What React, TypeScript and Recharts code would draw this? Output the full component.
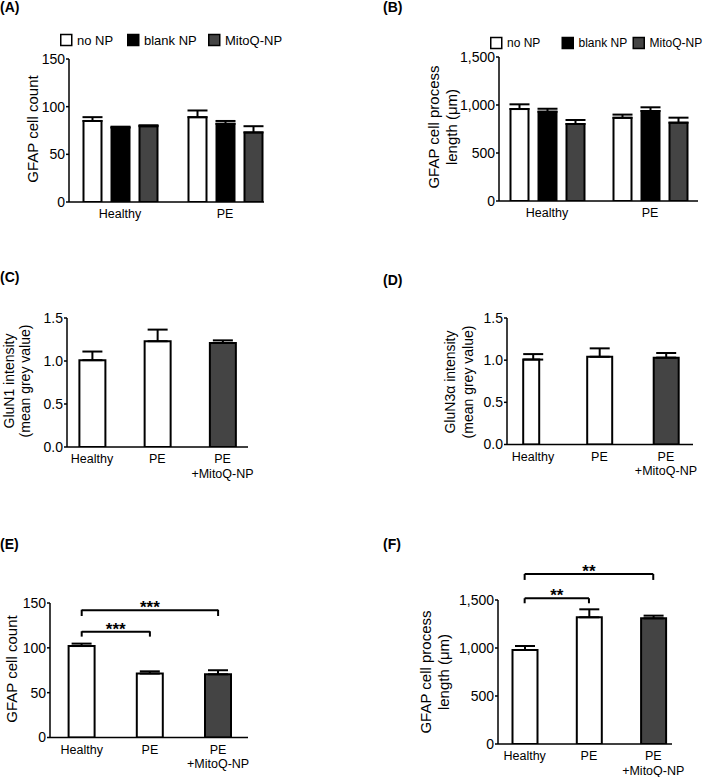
import React from 'react';
import { BarChart, Bar, XAxis, YAxis, ErrorBar, Cell, ReferenceLine, Rectangle } from 'recharts';

const FONT = '"Liberation Sans", Arial, Helvetica, sans-serif';
const PAGE_W = 707;
const PAGE_H = 777;
const GREY = '#444444';

// ---------- data ----------
const groupCategories = ['Healthy', 'PE'];
const seriesNames = ['no NP', 'blank NP', 'MitoQ-NP'];
const seriesFills = ['#ffffff', '#000000', GREY];

// Panel A: GFAP cell count
const aNoNP = [85, 89];
const aNoNPErr = [4, 7];
const aBlank = [78, 82];
const aBlankErr = [1, 3];
const aMitoQ = [79.5, 73];
const aMitoQErr = [1, 6.5];
const aTicks = [0, 50, 100, 150];

// Panel B: GFAP cell process length
const bNoNP = [958, 866];
const bNoNPErr = [49, 34];
const bBlank = [930, 937];
const bBlankErr = [31, 39];
const bMitoQ = [802, 816];
const bMitoQErr = [42, 52];
const bTicks = [0, 500, 1000, 1500];

// Panels C-F
const treatCategories = ['Healthy', 'PE', 'PE\n+MitoQ-NP'];
const treatFills = ['#ffffff', '#ffffff', GREY];

const cValues = [1.01, 1.23, 1.21];
const cErr = [0.1, 0.135, 0.03];
const cdTicks = [0, 0.5, 1.0, 1.5];

const dValues = [1.007, 1.04, 1.03];
const dErr = [0.065, 0.1, 0.055];

const eValues = [102, 71.3, 70.5];
const eErr = [2.7, 2.5, 4.5];
const eTicks = [0, 50, 100, 150];

const fValues = [979, 1320, 1309];
const fErr = [42, 83, 28];
const fTicks = [0, 500, 1000, 1500];

// significance annotations (value units)
const eBrackets = [
  { from: 'Healthy', to: 'PE', y: 118, drop: 5.5, label: '***' },
  { from: 'Healthy', to: 'PE\n+MitoQ-NP', y: 142, drop: 6.5, label: '***' },
];
const fBrackets = [
  { from: 'Healthy', to: 'PE', y: 1518, drop: 52, label: '**' },
  { from: 'Healthy', to: 'PE\n+MitoQ-NP', y: 1771, drop: 62, label: '**' },
];

// ---------- tables ----------
const aRows = groupCategories.map((c, i) => ({
  cat: c,
  noNP: aNoNP[i], noNPErr: [0, aNoNPErr[i]],
  blank: aBlank[i], blankErr: [0, aBlankErr[i]],
  mitoq: aMitoQ[i], mitoqErr: [0, aMitoQErr[i]],
}));
const bRows = groupCategories.map((c, i) => ({
  cat: c,
  noNP: bNoNP[i], noNPErr: [0, bNoNPErr[i]],
  blank: bBlank[i], blankErr: [0, bBlankErr[i]],
  mitoq: bMitoQ[i], mitoqErr: [0, bMitoQErr[i]],
}));
const mkRows = (vals: number[], errs: number[]) =>
  treatCategories.map((c, i) => ({ cat: c, v: vals[i], err: [0, errs[i]] }));
const cRows = mkRows(cValues, cErr);
const dRows = mkRows(dValues, dErr);
const eRows = mkRows(eValues, eErr);
const fRows = mkRows(fValues, fErr);

// ---------- layout ----------
type Spec = {
  x0: number; x1: number; y0: number; y1: number;
  padL: number; padR: number;
  max: number; ticks: number[]; fmt: (v: number) => string;
};
const intFmt = (v: number) => String(v);
const commaFmt = (v: number) => v.toLocaleString('en-US');
const decFmt = (v: number) => v.toFixed(1);

const specA: Spec = { x0: 69, x1: 264, y0: 59, y1: 202, padL: -1.5, padR: -13.5, max: 150, ticks: aTicks, fmt: intFmt };
const specB: Spec = { x0: 499, x1: 698, y0: 57, y1: 201, padL: -3.5, padR: -3.5, max: 1500, ticks: bTicks, fmt: commaFmt };
const specC: Spec = { x0: 67, x1: 248, y0: 318, y1: 447, padL: -7.6, padR: -7.1, max: 1.5, ticks: cdTicks, fmt: decFmt };
const specD: Spec = { x0: 507, x1: 693, y0: 318, y1: 444.5, padL: -7.3, padR: -6.2, max: 1.5, ticks: cdTicks, fmt: decFmt };
const specE: Spec = { x0: 50, x1: 248, y0: 603, y1: 737.5, padL: -2.4, padR: -4.2, max: 150, ticks: eTicks, fmt: intFmt };
const specF: Spec = { x0: 498, x1: 672, y0: 600, y1: 744, padL: -5.5, padR: -13.4, max: 1500, ticks: fTicks, fmt: commaFmt };

const Y_W = 40;
const X_H = 30;

const XTick = (props: any) => {
  const { x, y, payload } = props;
  const lines = String(payload.value).split('\n');
  return (
    <text x={x} y={y} textAnchor="middle" fontFamily={FONT} fontSize={12.5} fill="#000">
      {lines.map((l, i) => (
        <tspan key={i} x={x} dy={i === 0 ? 16 : 14.5}>{l}</tspan>
      ))}
    </text>
  );
};

const layerStyle: React.CSSProperties = { position: 'absolute', left: 0, top: 0 };

function Panel({ spec, rows, children }: { spec: Spec; rows: any[]; children: React.ReactNode }) {
  return (
    <div style={layerStyle}>
      <BarChart
        width={PAGE_W}
        height={PAGE_H}
        data={rows}
        margin={{ top: spec.y0, left: spec.x0 - Y_W, right: PAGE_W - spec.x1, bottom: PAGE_H - spec.y1 - X_H }}
        barGap={10}
      >
        <XAxis
          dataKey="cat"
          type="category"
          height={X_H}
          padding={{ left: spec.padL, right: spec.padR }}
          axisLine={{ stroke: '#000', strokeWidth: 1.5 }}
          tickLine={false}
          tickSize={0}
          tickMargin={0}
          interval={0}
          tick={<XTick />}
        />
        <YAxis
          width={Y_W}
          domain={[0, spec.max]}
          ticks={spec.ticks}
          allowDataOverflow
          tickFormatter={spec.fmt}
          axisLine={{ stroke: '#000', strokeWidth: 1.5 }}
          tickLine={{ stroke: '#000', strokeWidth: 1.5 }}
          tickSize={3}
          tickMargin={1}
          tick={{ fill: '#000', fontSize: 14, fontFamily: FONT }}
        />
        {children}
      </BarChart>
    </div>
  );
}

const errProps = { width: 10, stroke: '#000', strokeWidth: 2, direction: 'y' as const, isAnimationActive: false };

function groupedBars() {
  const keys = ['noNP', 'blank', 'mitoq'];
  return keys.map((k, i) => (
    <Bar key={k} dataKey={k} name={seriesNames[i]} fill={seriesFills[i]} stroke="#000" strokeWidth={2} barSize={18} isAnimationActive={false}>
      <ErrorBar dataKey={k + 'Err'} {...errProps} />
    </Bar>
  ));
}

const dWidthFactor = [0.64, 1, 1];
const DShape = (props: any) => {
  const f = dWidthFactor[props.index] ?? 1;
  const w = props.width * f;
  const shift = f < 1 ? (props.width - w) / 2 - 2 : 0;
  return <Rectangle x={props.x + shift} y={props.y} width={w} height={props.height} fill={props.fill} stroke="#000" strokeWidth={2} />;
};

function treatBars(barSize: number, shape?: any) {
  return (
    <Bar dataKey="v" stroke="#000" strokeWidth={2} barSize={barSize} isAnimationActive={false} shape={shape}>
      {treatFills.map((f, i) => <Cell key={i} fill={f} />)}
      <ErrorBar dataKey="err" {...errProps} />
    </Bar>
  );
}

function brackets(list: typeof eBrackets, fontSize: number, offset: number) {
  const out: React.ReactNode[] = [];
  list.forEach((b, i) => {
    out.push(
      <ReferenceLine
        key={'h' + i}
        segment={[{ x: b.from, y: b.y }, { x: b.to, y: b.y }]}
        stroke="#000"
        strokeWidth={2}
        ifOverflow="visible"
        label={{ value: b.label, position: 'top', offset, fontSize, fontWeight: 'bold', fill: '#000', fontFamily: FONT }}
      />
    );
    [b.from, b.to].forEach((x, j) => {
      out.push(
        <ReferenceLine
          key={'v' + i + '-' + j}
          segment={[{ x, y: b.y + 0.5 }, { x, y: b.y - b.drop }]}
          stroke="#000"
          strokeWidth={2}
          ifOverflow="visible"
        />
      );
    });
  });
  return out;
}

// ---------- overlay text ----------
const titles = [
  { t: '(A)', x: 0, y: 12 },
  { t: '(B)', x: 383, y: 12 },
  { t: '(C)', x: 0, y: 282 },
  { t: '(D)', x: 383, y: 285 },
  { t: '(E)', x: 0, y: 549 },
  { t: '(F)', x: 383, y: 549 },
];

const yLabels = [
  { lines: ['GFAP cell count'], xs: [32], cy: 129, fs: 15 },
  { lines: ['GFAP cell process', 'length (\u03bcm)'], xs: [433, 451], cy: 127, fs: 15 },
  { lines: ['GluN1 intensity', '(mean grey value)'], xs: [8.5, 25], cy: 381, fs: 14 },
  { lines: ['GluN3\u03b1 intensity', '(mean grey value)'], xs: [450, 468], cy: 382, fs: 14 },
  { lines: ['GFAP cell count'], xs: [11], cy: 669, fs: 15 },
  { lines: ['GFAP cell process', 'length (\u03bcm)'], xs: [425, 443], cy: 672, fs: 15 },
];

const legends = [
  { xs: [60, 127, 208], cy: 40, fs: 13 },
  { xs: [490, 561.5, 632.5], cy: 43, fs: 12 },
];

function Overlay() {
  return (
    <svg width={PAGE_W} height={PAGE_H} style={{ ...layerStyle, pointerEvents: 'none' }}>
      {titles.map((t) => (
        <text key={t.t} x={t.x} y={t.y} fontFamily={FONT} fontSize={14} fontWeight="bold" fill="#000">{t.t}</text>
      ))}
      {yLabels.map((lab, i) =>
        lab.lines.map((l, j) => (
          <text
            key={i + '-' + j}
            x={lab.xs[j]}
            y={lab.cy}
            transform={`rotate(-90 ${lab.xs[j]} ${lab.cy})`}
            textAnchor="middle"
            dominantBaseline="central"
            fontFamily={FONT}
            fontSize={lab.fs}
            fill="#000"
          >
            {l}
          </text>
        ))
      )}
      {legends.map((lg, i) =>
        seriesNames.map((n, j) => (
          <g key={i + '-' + j}>
            <rect x={lg.xs[j] + 0.75} y={lg.cy - 5.5} width={11} height={11} fill={seriesFills[j]} stroke="#000" strokeWidth={1.5} />
            <text x={lg.xs[j] + 17} y={lg.cy} dominantBaseline="central" fontFamily={FONT} fontSize={lg.fs} fill="#000">{n}</text>
          </g>
        ))
      )}
    </svg>
  );
}

export default function App() {
  return (
    <div style={{ position: 'absolute', left: 0, top: 0, width: PAGE_W, height: PAGE_H, background: '#fff', overflow: 'hidden' }}>
      <Panel spec={specA} rows={aRows}>{groupedBars()}</Panel>
      <Panel spec={specB} rows={bRows}>{groupedBars()}</Panel>
      <Panel spec={specC} rows={cRows}>{treatBars(26)}</Panel>
      <Panel spec={specD} rows={dRows}>{treatBars(25, <DShape />)}</Panel>
      <Panel spec={specE} rows={eRows}>
        {treatBars(26)}
        {brackets(eBrackets, 17, -3)}
      </Panel>
      <Panel spec={specF} rows={fRows}>
        {treatBars(25)}
        {brackets(fBrackets, 17, -3)}
      </Panel>
      <Overlay />
    </div>
  );
}
